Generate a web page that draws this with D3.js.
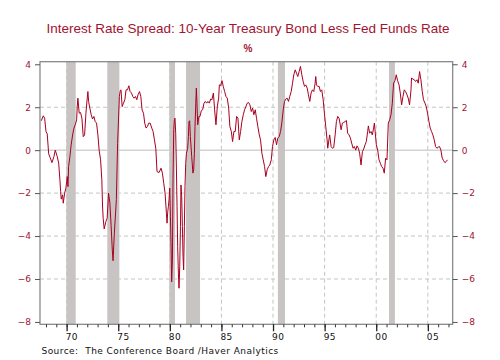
<!DOCTYPE html>
<html>
<head>
<meta charset="utf-8">
<script src="https://cdn.jsdelivr.net/npm/d3@7"></script>
<style>
html,body{margin:0;padding:0;background:#fff;}
svg{display:block;}
</style>
</head>
<body>
<svg id="chart" width="500" height="360"></svg>
<script>
// ---- data ----
const years = [
1967.54,1967.74,1967.87,1968.00,1968.12,1968.26,1968.39,1968.58,1968.77,1968.90,
1969.09,1969.23,1969.35,1969.42,1969.48,1969.61,1969.67,1969.81,1969.93,1970.00,
1970.06,1970.13,1970.19,1970.32,1970.44,1970.58,1970.71,1970.83,1970.97,1971.03,
1971.09,1971.22,1971.35,1971.48,1971.61,1971.74,1971.87,1971.99,1972.06,1972.13,
1972.25,1972.38,1972.51,1972.64,1972.77,1972.90,1973.03,1973.15,1973.29,1973.41,
1973.48,1973.54,1973.64,1973.80,1973.93,1974.06,1974.19,1974.31,1974.43,1974.50,
1974.62,1974.82,1974.94,1975.11,1975.20,1975.27,1975.38,1975.51,1975.64,1975.76,
1975.90,1976.03,1976.15,1976.29,1976.41,1976.54,1976.67,1976.80,1976.92,1977.06,
1977.19,1977.31,1977.45,1977.57,1977.70,1977.83,1977.96,1978.09,1978.25,1978.38,
1978.51,1978.64,1978.76,1978.96,1979.15,1979.28,1979.41,1979.54,1979.67,1979.73,
1979.80,1979.86,1979.92,1979.99,1980.06,1980.12,1980.18,1980.25,1980.31,1980.38,
1980.44,1980.50,1980.57,1980.64,1980.70,1980.76,1980.83,1980.89,1980.96,1981.03,
1981.08,1981.15,1981.22,1981.28,1981.34,1981.41,1981.47,1981.54,1981.61,1981.73,
1981.80,1981.86,1981.92,1981.99,1982.12,1982.24,1982.31,1982.38,1982.44,1982.50,
1982.57,1982.63,1982.70,1982.77,1982.82,1982.92,1983.06,1983.18,1983.31,1983.44,
1983.57,1983.69,1983.83,1983.96,1984.08,1984.22,1984.34,1984.47,1984.60,1984.73,
1984.80,1984.92,1985.05,1985.18,1985.31,1985.44,1985.57,1985.70,1985.82,1985.96,
1986.08,1986.21,1986.34,1986.47,1986.60,1986.73,1986.86,1986.98,1987.12,1987.24,
1987.37,1987.50,1987.63,1987.76,1987.89,1988.02,1988.14,1988.28,1988.40,1988.53,
1988.67,1988.79,1988.92,1989.05,1989.18,1989.30,1989.44,1989.57,1989.69,1989.83,
1989.95,1990.08,1990.21,1990.34,1990.46,1990.60,1990.73,1990.85,1990.99,1991.11,
1991.24,1991.37,1991.50,1991.62,1991.76,1991.89,1992.01,1992.15,1992.27,1992.40,
1992.53,1992.66,1992.79,1992.92,1993.05,1993.17,1993.31,1993.43,1993.56,1993.69,
1993.82,1993.95,1994.08,1994.14,1994.21,1994.33,1994.47,1994.59,1994.72,1994.86,
1994.98,1995.11,1995.24,1995.30,1995.44,1995.49,1995.63,1995.75,1995.88,1996.02,
1996.14,1996.27,1996.40,1996.60,1996.72,1996.85,1996.98,1997.11,1997.23,1997.37,
1997.50,1997.62,1997.76,1997.88,1998.01,1998.14,1998.27,1998.39,1998.53,1998.66,
1998.78,1998.92,1999.04,1999.17,1999.24,1999.36,1999.50,1999.62,1999.75,1999.82,
1999.88,2000.01,2000.14,2000.27,2000.40,2000.52,2000.66,2000.78,2000.91,2001.04,
2001.17,2001.30,2001.43,2001.56,2001.68,2001.82,2001.94,2002.07,2002.21,2002.33,
2002.46,2002.59,2002.72,2002.84,2002.98,2003.10,2003.23,2003.37,2003.42,2003.56,
2003.69,2003.81,2003.95,2004.07,2004.20,2004.33,2004.46,2004.58,2004.72,2004.85,
2004.97,2005.11,2005.23,2005.36,2005.49,2005.62,2005.75,2005.88,2006.01,2006.13,
2006.27,2006.39,2006.52,2006.65,2006.78,2006.91
];
const spread = [
1.37,1.60,1.49,0.87,0.76,-0.17,-0.33,-0.58,-0.30,0.00,
-0.30,-0.60,-1.38,-1.93,-2.28,-2.08,-2.47,-2.00,-1.77,-1.46,
-1.23,-1.70,-0.76,-0.30,0.25,0.71,1.03,1.18,1.41,2.03,
2.42,1.72,1.75,1.49,0.63,0.71,1.72,2.38,2.73,2.27,
1.96,1.65,1.45,1.57,1.33,1.26,0.71,0.00,-0.45,-1.38,
-2.60,-3.17,-3.67,-3.33,-3.17,-2.00,-2.45,-3.50,-4.70,-5.15,
-3.90,-2.30,0.30,2.50,2.78,2.81,2.03,2.19,2.35,2.81,
2.81,3.00,2.73,2.66,2.50,2.42,2.50,2.35,2.58,2.73,
2.50,1.88,1.72,1.26,1.03,1.10,1.26,1.26,1.03,0.87,
0.48,0.09,-1.00,-1.04,-0.84,-1.07,-1.54,-2.00,-2.94,-3.40,
-2.86,-2.63,-2.32,-1.77,-3.10,-4.49,-6.13,-5.11,-1.38,0.95,
1.41,1.49,0.79,-0.92,-2.63,-4.49,-5.73,-6.43,-5.43,-3.56,
-1.62,-2.16,-3.56,-4.96,-5.58,-3.56,-1.70,-0.61,-0.14,0.09,
0.63,1.33,1.37,0.63,-0.30,-1.07,-0.92,-0.14,1.10,1.96,
2.89,2.19,1.18,1.41,1.57,1.57,1.85,1.88,2.19,2.27,
2.19,2.27,2.19,2.38,2.35,2.66,1.88,1.18,2.03,2.42,
3.04,3.00,3.24,2.97,2.73,2.50,2.42,1.96,1.10,0.87,
0.40,0.87,0.87,1.57,1.49,0.48,0.87,1.33,1.65,1.88,
2.03,2.19,2.22,2.11,1.80,1.96,1.65,1.88,1.49,1.10,
0.71,0.48,-0.14,-0.45,-0.76,-1.23,-0.90,-0.76,-0.69,-0.45,
0.17,0.48,0.59,0.25,0.56,0.63,0.87,1.26,1.88,2.27,
2.38,2.42,2.27,2.50,2.73,3.12,3.51,3.74,3.59,3.43,
3.66,3.90,3.51,3.20,2.97,3.04,2.89,2.58,2.27,2.66,
2.81,2.73,3.12,3.43,3.04,2.97,2.97,2.73,2.81,2.35,
1.72,1.10,0.48,0.09,0.56,0.71,0.17,0.09,0.12,0.71,
1.33,1.57,1.49,0.95,1.26,1.29,1.33,1.38,0.79,0.71,
0.56,0.33,0.09,0.17,0.00,0.20,0.09,-0.14,-0.69,-0.07,
0.05,0.25,0.40,0.87,1.13,0.79,0.87,0.71,1.03,1.26,
0.95,0.25,0.00,-0.45,-0.61,-0.76,-0.84,-1.07,-0.37,-0.45,
1.26,1.41,1.65,2.19,3.12,3.24,3.51,3.24,3.04,2.66,
2.11,2.50,2.81,2.73,2.58,2.42,2.11,2.81,3.36,3.31,
3.28,3.20,3.28,3.12,3.66,3.28,2.73,2.35,2.19,2.03,
1.72,1.33,1.03,0.87,0.71,0.48,0.17,0.09,0.14,0.17,
0.00,-0.37,-0.48,-0.58,-0.53,-0.45
];
const recessionStart = [1969.97, 1973.94, 1979.95, 1981.57, 1990.47, 2001.24];
const recessionEnd   = [1970.88, 1975.11, 1980.50, 1982.93, 1991.16, 2001.81];
const yTicks = [-8, -6, -4, -2, 0, 2, 4];
const xMajorYears = [1970, 1975, 1980, 1985, 1990, 1995, 2000, 2005];
const xTickLabels = ["70", "75", "80", "85", "90", "95", "00", "05"];
const xMinorYears = d3.range(1968, 2008);
const titleText = "Interest Rate Spread: 10-Year Treasury Bond Less Fed Funds Rate";
const unitText = "%";
const sourceText = "Source:  The Conference Board /Haver Analytics";

// ---- layout ----
const L = 40, R = 452.7, T = 61.7, B = 324.3;
const RED = "#a3132f";
const x = d3.scaleLinear().domain([1967.42, 2007.41]).range([L, R]);
const y = d3.scaleLinear().domain([-8.11, 4.12]).range([B, T]);

const svg = d3.select("#chart");

// title
svg.append("text").attr("x", 248).attr("y", 33).attr("text-anchor", "middle")
  .attr("font-family", "'Liberation Sans', Arial, sans-serif").attr("font-size", 13.5)
  .attr("fill", RED).text(titleText);
svg.append("text").attr("x", 248).attr("y", 52).attr("text-anchor", "middle")
  .attr("font-family", "'Liberation Sans', Arial, sans-serif").attr("font-size", 10)
  .attr("font-weight", "bold").attr("fill", RED).text(unitText);

const plot = svg.append("g");

// gridlines
const gridColor = "#c4c4c4";
plot.selectAll("line.hgrid").data(yTicks.filter(v => v !== 0 && v !== 4 && v !== -8))
  .join("line").attr("class", "hgrid")
  .attr("x1", L).attr("x2", R).attr("y1", d => y(d)).attr("y2", d => y(d))
  .attr("stroke", gridColor).attr("stroke-width", 1).attr("stroke-dasharray", "4,3");
plot.selectAll("line.vgrid").data(xMajorYears)
  .join("line").attr("class", "vgrid")
  .attr("x1", d => x(d)).attr("x2", d => x(d)).attr("y1", T).attr("y2", B)
  .attr("stroke", gridColor).attr("stroke-width", 1).attr("stroke-dasharray", "4,3");
plot.append("line").attr("x1", L).attr("x2", R).attr("y1", y(0)).attr("y2", y(0))
  .attr("stroke", "#bdbdbd").attr("stroke-width", 1);

// recession bars
plot.selectAll("rect.rec").data(recessionStart.map((s, i) => [s, recessionEnd[i]]))
  .join("rect").attr("class", "rec")
  .attr("x", d => x(d[0])).attr("width", d => x(d[1]) - x(d[0]))
  .attr("y", T).attr("height", B - T).attr("fill", "#c9c4c4");

// line
const series = years.map((yr, i) => ({ yr, v: spread[i] }));
plot.append("path").datum(series)
  .attr("fill", "none").attr("stroke", "#a8001f").attr("stroke-width", 1)
  .attr("stroke-linejoin", "round")
  .attr("d", d3.line().x(d => x(d.yr)).y(d => y(d.v)));

// frame
svg.append("rect").attr("x", L).attr("y", T).attr("width", R - L).attr("height", B - T)
  .attr("fill", "none").attr("stroke", "#808080").attr("stroke-width", 1.2);

// y axes
const yLeft = d3.axisLeft(y).tickValues(yTicks).tickSize(5).tickPadding(4).tickFormat(d3.format("d"));
const yRight = d3.axisRight(y).tickValues(yTicks).tickSize(5).tickPadding(4).tickFormat(d3.format("d"));
function styleY(g) {
  g.select(".domain").remove();
  g.selectAll(".tick line").attr("stroke", "#555");
  g.selectAll(".tick text").attr("fill", RED)
    .attr("font-family", "'DejaVu Sans', Verdana, sans-serif").attr("font-size", 9);
}
svg.append("g").attr("transform", `translate(${L},0)`).call(yLeft).call(styleY);
svg.append("g").attr("transform", `translate(${R},0)`).call(yRight).call(styleY);

// x axis: minor + major ticks, labels centred mid-year
const xMinor = d3.axisBottom(x).tickValues(xMinorYears).tickSize(3).tickFormat("");
svg.append("g").attr("transform", `translate(0,${B})`).call(xMinor)
  .call(g => { g.select(".domain").remove(); g.selectAll(".tick line").attr("stroke", "#333"); });
const xMajor = d3.axisBottom(x).tickValues(xMajorYears).tickSize(7).tickFormat("");
svg.append("g").attr("transform", `translate(0,${B})`).call(xMajor)
  .call(g => { g.select(".domain").remove(); g.selectAll(".tick line").attr("stroke", "#222").attr("stroke-width", 1.3); });
svg.append("g").selectAll("text").data(xMajorYears).join("text")
  .attr("x", d => x(d + 0.5)).attr("y", B + 16).attr("text-anchor", "middle")
  .attr("font-family", "'DejaVu Sans', Verdana, sans-serif").attr("font-size", 9)
  .attr("letter-spacing", 0.4)
  .attr("fill", "#111").text((d, i) => xTickLabels[i]);

// source
svg.append("text").attr("x", 41.5).attr("y", 354)
  .attr("font-family", "'DejaVu Sans', Verdana, sans-serif").attr("font-size", 9)
  .attr("letter-spacing", 0.45).style("white-space", "pre")
  .attr("fill", "#111").text(sourceText);
</script>
</body>
</html>
